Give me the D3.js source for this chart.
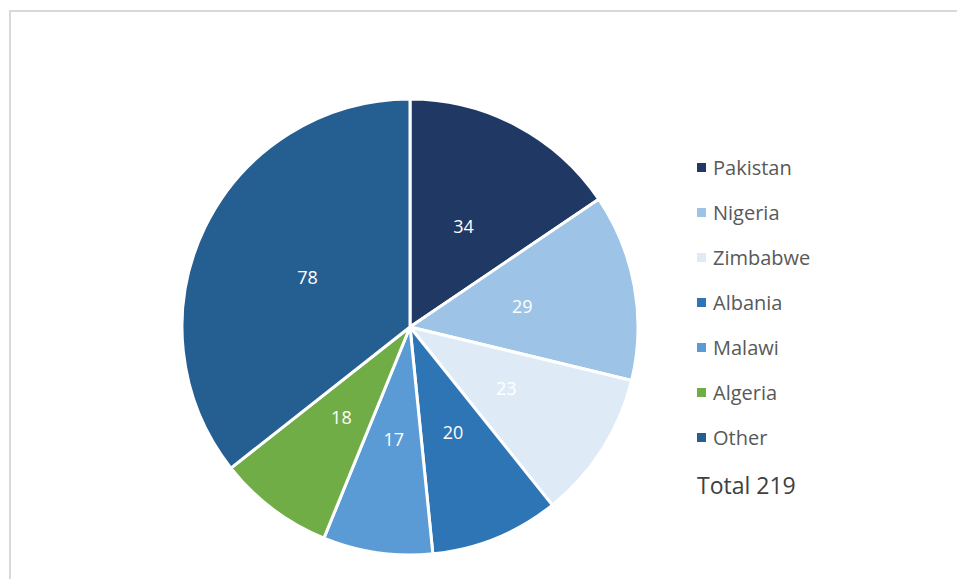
<!DOCTYPE html>
<meta charset="utf-8">
<script src="https://d3js.org/d3.v7.min.js"></script>
<style>
  body { margin: 0; background: #fff; }
  text { font-family: "Open Sans", "Liberation Sans", sans-serif; }
</style>
<div id="chart"></div>
<script>
  // data
  var countries = ["Pakistan", "Nigeria", "Zimbabwe", "Albania", "Malawi", "Algeria", "Other"]
  var counts = [34, 29, 23, 20, 17, 18, 78]
  var colors = ["#203864", "#9dc3e6", "#deebf7", "#2e75b6", "#5b9bd5", "#70ad47", "#255e91"]
  var totalLabel = "Total 219"

  var width = 957, height = 579
  var cx = 410, cy = 327, radius = 228

  var svg = d3.select("#chart").append("svg")
    .attr("width", width)
    .attr("height", height)

  // light frame around the chart area
  svg.append("rect")
    .attr("x", 10).attr("y", 11)
    .attr("width", 960).attr("height", 600)
    .attr("fill", "none")
    .attr("stroke", "#d9d9d9")
    .attr("stroke-width", 2)

  var color = d3.scaleOrdinal().domain(countries).range(colors)

  var data = countries.map(function(c, i) { return { name: c, value: counts[i] } })

  var pie = d3.pie().sort(null).value(function(d) { return d.value })
  var arcs = pie(data)

  var arc = d3.arc().innerRadius(0).outerRadius(radius)
  var labelArc = d3.arc().innerRadius(radius * 0.5).outerRadius(radius * 0.5)

  var g = svg.append("g").attr("transform", "translate(" + cx + "," + cy + ")")

  g.selectAll("path")
    .data(arcs)
    .enter()
    .append("path")
      .attr("d", arc)
      .attr("fill", function(d) { return color(d.data.name) })
      .attr("stroke", "white")
      .attr("stroke-width", 3)
      .attr("stroke-linejoin", "round")

  g.selectAll("text.val")
    .data(arcs)
    .enter()
    .append("text")
      .attr("class", "val")
      .attr("transform", function(d) { return "translate(" + labelArc.centroid(d) + ")" })
      .attr("text-anchor", "middle")
      .attr("dy", "0.35em")
      .attr("fill", "white")
      .style("font-size", "18px")
      .text(function(d) { return d.data.value })

  // legend
  var legend = svg.append("g").attr("transform", "translate(697,168)")
  var row = legend.selectAll("g")
    .data(countries)
    .enter()
    .append("g")
      .attr("transform", function(d, i) { return "translate(0," + i * 45 + ")" })

  row.append("rect")
    .attr("x", 0).attr("y", -5)
    .attr("width", 9).attr("height", 9)
    .attr("fill", function(d) { return color(d) })

  row.append("text")
    .attr("x", 16)
    .attr("dy", "0.35em")
    .attr("fill", "#595959")
    .style("font-size", "20px")
    .text(function(d) { return d })

  legend.append("text")
    .attr("x", 0)
    .attr("y", 318)
    .attr("dy", "0.35em")
    .attr("fill", "#404040")
    .style("font-size", "23px")
    .text(totalLabel)
</script>
